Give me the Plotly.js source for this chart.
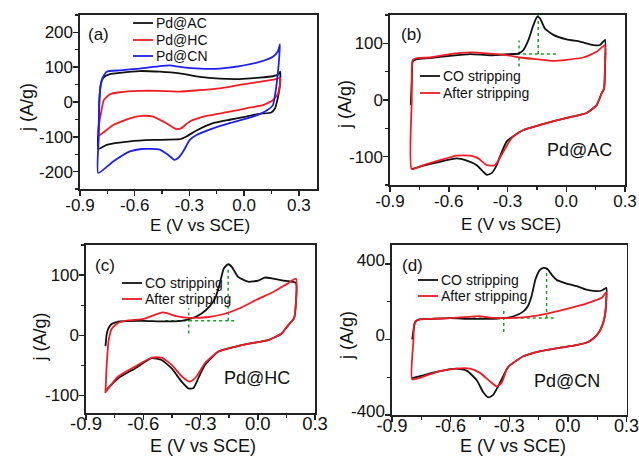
<!DOCTYPE html>
<html><head><meta charset="utf-8">
<script src="https://cdn.plot.ly/plotly-3.0.1.min.js"></script>
<style>body{margin:0;background:#fff}#chart{width:639px;height:459px}</style>
</head><body><div id="chart"></div>
<script>
// ---------- data: panel (a) ----------
const aAC_E = [-0.8,-0.797,-0.792,-0.785,-0.772,-0.736,-0.681,-0.572,-0.462,-0.353,-0.243,-0.134,-0.024,0.085,0.158,0.185,0.198, 0.197,0.19,0.18,0.17,0.149,0.085,0.012,-0.079,-0.17,-0.261,-0.316,-0.353,-0.499,-0.626,-0.754,-0.8];
const aAC_J = [-135,-60,20,53,70,80,84,89,87,82,72,67,66,70,74,78,87, 50,25,0,-18,-30,-34,-42,-51,-61,-82,-99,-107,-109,-113,-123,-135];
const aHC_E = [-0.8,-0.794,-0.785,-0.769,-0.736,-0.681,-0.572,-0.462,-0.353,-0.243,-0.134,-0.024,0.085,0.16,0.197, 0.197,0.19,0.186,0.158,0.103,0.012,-0.079,-0.207,-0.298,-0.344,-0.371,-0.426,-0.499,-0.562,-0.626,-0.718,-0.8];
const aHC_J = [-97,-60,-32,6,22,28,32,32,30,34,39,49,58,64,69, 50,32,24,5,-9,-18,-28,-40,-56,-75,-78,-61,-42,-40,-47,-66,-97];
const aCN_E = [-0.8,-0.797,-0.794,-0.781,-0.754,-0.681,-0.572,-0.462,-0.407,-0.353,-0.243,-0.134,-0.024,0.085,0.158,0.185,0.197, 0.19,0.178,0.168,0.158,0.122,0.049,-0.079,-0.17,-0.261,-0.298,-0.334,-0.362,-0.384,-0.407,-0.462,-0.562,-0.626,-0.718,-0.8];
const aCN_J = [-204,-100,6,63,87,91,96,103,105,101,96,96,103,115,130,145,166, 110,50,15,-9,-25,-42,-61,-76,-95,-109,-142,-161,-166,-156,-137,-135,-142,-171,-204];

// ---------- data: panel (b) Pd@AC ----------
const bCO_E = [-0.794,-0.788,-0.784,-0.763,-0.695,-0.593,-0.491,-0.389,-0.287,-0.245,-0.219,-0.193,-0.168,-0.148,-0.134,-0.109,-0.066,0.002,0.07,0.138,0.172,0.198, 0.198,0.193,0.181,0.155,0.104,0.036,-0.049,-0.134,-0.219,-0.27,-0.304,-0.338,-0.355,-0.381,-0.406,-0.457,-0.508,-0.56,-0.645,-0.73,-0.789];
const bCO_J = [-9,40,68,72,74,78,81,79,81,82,88,106,132,147,144,126,115,107,103,97,97,106, 60,20,12,-9,-23,-29,-36,-44,-53,-64,-73,-99,-115,-129,-132,-115,-107,-103,-109,-116,-122];
const bAF_E = [-0.789,-0.789,-0.788,-0.783,-0.763,-0.695,-0.593,-0.491,-0.389,-0.304,-0.236,-0.151,-0.066,0.002,0.087,0.155,0.198, 0.198,0.193,0.181,0.155,0.104,0.036,-0.049,-0.134,-0.219,-0.27,-0.287,-0.321,-0.364,-0.406,-0.449,-0.491,-0.56,-0.645,-0.73,-0.789];
const bAF_J = [-122,0,60,71,74,75,81,84,82,79,75,72,69,71,75,85,97, 60,20,12,-9,-23,-29,-36,-44,-53,-64,-71,-91,-115,-115,-103,-98,-98,-106,-115,-122];
const bGuide_E = [-0.241,-0.241,null,-0.252,-0.052,null,-0.143,-0.143];
const bGuide_J = [59,105,null,81,81,null,81,150];

// ---------- data: panel (c) Pd@HC ----------
const cCO_E = [-0.798,-0.791,-0.783,-0.769,-0.748,-0.725,-0.602,-0.497,-0.4,-0.348,-0.296,-0.252,-0.22,-0.199,-0.178,-0.155,-0.134,-0.103,-0.05,0.002,0.037,0.081,0.134,0.2, 0.199,0.19,0.16,0.125,0.056,-0.032,-0.119,-0.206,-0.276,-0.311,-0.338,-0.364,-0.399,-0.451,-0.504,-0.556,-0.643,-0.73,-0.797];
const cCO_J = [-18,3,11,18,21,23,24,23,24,28,36,48,64,86,111,118,113,97,89,91,96,94,91,87, 50,28,17,3,-8,-13,-19,-27,-49,-71,-88,-88,-77,-55,-41,-38,-55,-71,-92];
const cAF_E = [-0.798,-0.791,-0.781,-0.765,-0.73,-0.678,-0.602,-0.497,-0.427,-0.357,-0.269,-0.182,-0.094,-0.007,0.081,0.151,0.2, 0.199,0.19,0.16,0.125,0.056,-0.032,-0.119,-0.206,-0.276,-0.32,-0.355,-0.399,-0.451,-0.504,-0.556,-0.643,-0.73,-0.797];
const cAF_J = [-96,-46,-8,11,21,25,27,38,32,29,30,35,45,59,72,85,94, 50,28,17,3,-8,-13,-19,-27,-46,-68,-77,-68,-49,-37,-37,-52,-68,-94];
const cGuide_E = [-0.362,-0.362,null,-0.485,-0.112,null,-0.155,-0.155];
const cGuide_J = [3,45,null,24,24,null,24,114];

// ---------- data: panel (d) Pd@CN ----------
const dCO_E = [-0.797,-0.788,-0.783,-0.762,-0.7,-0.603,-0.503,-0.405,-0.355,-0.305,-0.255,-0.226,-0.205,-0.186,-0.166,-0.145,-0.126,-0.106,-0.077,-0.056,-0.006,0.046,0.094,0.144,0.174,0.197, 0.196,0.19,0.178,0.16,0.13,0.1,0.03,-0.06,-0.14,-0.23,-0.3,-0.314,-0.348,-0.382,-0.407,-0.433,-0.467,-0.518,-0.569,-0.655,-0.74,-0.797];
const dCO_J = [0,60,88,106,109,113,109,109,111,115,132,150,176,229,317,366,379,374,335,314,296,282,264,256,259,273, 200,130,80,40,5,-15,-33,-47,-62,-90,-140,-160,-230,-293,-307,-280,-215,-165,-155,-168,-190,-205];
const dAF_E = [-0.797,-0.79,-0.788,-0.78,-0.754,-0.7,-0.603,-0.503,-0.453,-0.405,-0.355,-0.305,-0.205,-0.106,-0.006,0.094,0.144,0.175,0.197, 0.196,0.19,0.178,0.16,0.13,0.1,0.03,-0.06,-0.14,-0.23,-0.3,-0.314,-0.339,-0.365,-0.399,-0.45,-0.501,-0.569,-0.655,-0.74,-0.797];
const dAF_J = [-211,0,70,97,106,109,113,120,123,116,113,113,120,137,162,190,208,222,250, 200,130,80,40,5,-15,-33,-47,-62,-90,-140,-160,-230,-248,-222,-177,-154,-154,-168,-197,-211];
const dGuide_E = [-0.328,-0.328,null,-0.487,-0.066,null,-0.109,-0.109];
const dGuide_J = [39,167,null,113,113,null,113,379];

// ---------- labels / ticks ----------
const seriesA = ['Pd@AC','Pd@HC','Pd@CN'];
const seriesCO = ['CO stripping','After stripping'];
const panelTags = ['(a)','(b)','(c)','(d)'];
const sampleNames = ['Pd@AC','Pd@HC','Pd@CN'];
const xTickVals = [-0.9,-0.6,-0.3,0.0,0.3];
const xTickText = ['-0.9','-0.6','-0.3','0.0','0.3'];
const yTickValsA = [-200,-100,0,100,200];
const yTickTextA = ['-200','-100','0','100','200'];
const yTickValsBC = [-100,0,100];
const yTickTextBC = ['-100','0','100'];
const yTickValsD = [-400,0,400];
const yTickTextD = ['-400','0','400'];
const xTitle = 'E (V vs SCE)';
const yTitle = 'j (A/g)';

// ---------- styling ----------
const F = 'Arial, "Liberation Sans", Helvetica, sans-serif';
const BLACK = '#111111', RED = '#ee1c25', BLUE = '#1f1ff2', GREEN = '#1f9a2a';
const W = 639, H = 459;
const px = v => v / W, py = v => 1 - v / H;

function curve(x, y, color, xa, ya) {
  return {x: x, y: y, xaxis: xa, yaxis: ya, mode: 'lines', showlegend: false, hoverinfo: 'skip',
          line: {color: color, width: 1.8, shape: 'spline', smoothing: 0.5}};
}
function guide(x, y, xa, ya) {
  return {x: x, y: y, xaxis: xa, yaxis: ya, mode: 'lines', showlegend: false, hoverinfo: 'skip',
          connectgaps: false, line: {color: GREEN, width: 1.5, dash: 'dot'}};
}

const traces = [
  curve(aAC_E, aAC_J, BLACK, 'x', 'y'),
  curve(aHC_E, aHC_J, RED, 'x', 'y'),
  curve(aCN_E, aCN_J, BLUE, 'x', 'y'),
  guide(bGuide_E, bGuide_J, 'x2', 'y2'),
  curve(bCO_E, bCO_J, BLACK, 'x2', 'y2'),
  curve(bAF_E, bAF_J, RED, 'x2', 'y2'),
  guide(cGuide_E, cGuide_J, 'x3', 'y3'),
  curve(cCO_E, cCO_J, BLACK, 'x3', 'y3'),
  curve(cAF_E, cAF_J, RED, 'x3', 'y3'),
  guide(dGuide_E, dGuide_J, 'x4', 'y4'),
  curve(dCO_E, dCO_J, BLACK, 'x4', 'y4'),
  curve(dAF_E, dAF_J, RED, 'x4', 'y4')
];

function xax(dom, range, anchor, tsize, shift) {
  return {domain: dom, range: range, anchor: anchor, automargin: false,
    tickmode: 'array', tickvals: xTickVals, ticktext: xTickText,
    minor: {tickmode: 'linear', tick0: -0.9, dtick: 0.15, ticks: 'outside', ticklen: 3, tickwidth: 1.3, tickcolor: '#222'},
    showline: true, mirror: true, linecolor: '#222', linewidth: 1.6,
    ticks: 'outside', ticklen: 5, tickwidth: 1.5, tickcolor: '#222',
    ticklabelstandoff: shift, ticklabeloverflow: 'allow',
    showgrid: false, zeroline: false, fixedrange: true,
    tickfont: {family: F, size: tsize, color: '#111'}};
}
function yax(dom, range, anchor, vals, text, minorStep, lift) {
  return {domain: dom, range: range, anchor: anchor, automargin: false,
    tickmode: 'array', tickvals: vals, ticktext: text,
    minor: {tickmode: 'linear', tick0: 0, dtick: minorStep, ticks: 'outside', ticklen: 3, tickwidth: 1.3, tickcolor: '#222'},
    showline: true, mirror: true, linecolor: '#222', linewidth: 1.6,
    ticks: 'outside', ticklen: 5, tickwidth: 1.5, tickcolor: '#222',
    ticklabelstandoff: -3, ticklabelshift: lift || 0, ticklabeloverflow: 'allow',
    showgrid: false, zeroline: false, fixedrange: true,
    tickfont: {family: F, size: 17, color: '#111'}};
}

// legends drawn as line + text; axis titles and tags as text
const shapes = [], annotations = [];
function legendItem(x0, y, color, label) {
  shapes.push({type: 'line', xref: 'paper', yref: 'paper', x0: px(x0), x1: px(x0 + 20), y0: py(y), y1: py(y),
               line: {color: color, width: 1.8}});
  annotations.push({xref: 'paper', yref: 'paper', x: px(x0 + 21), y: py(y), xanchor: 'left', yanchor: 'middle',
               text: label, showarrow: false, font: {family: F, size: 14, color: '#111'}});
}
legendItem(133, 23, BLACK, seriesA[0]);
legendItem(133, 40, RED, seriesA[1]);
legendItem(133, 56, BLUE, seriesA[2]);
legendItem(420, 76, BLACK, seriesCO[0]);
legendItem(420, 93, RED, seriesCO[1]);
legendItem(122, 283, BLACK, seriesCO[0]);
legendItem(122, 299, RED, seriesCO[1]);
legendItem(418, 280, BLACK, seriesCO[0]);
legendItem(418, 296, RED, seriesCO[1]);

function tag(x, y, t, size, anchor, angle) {
  annotations.push({xref: 'paper', yref: 'paper', x: px(x), y: py(y), xanchor: anchor || 'left', yanchor: 'middle',
    text: t, showarrow: false, textangle: angle || 0, font: {family: F, size: size, color: '#111'}});
}
tag(86, 34, panelTags[0], 17);
tag(399, 34, panelTags[1], 17);
tag(93, 265, panelTags[2], 17);
tag(400, 265, panelTags[3], 17);
tag(579, 150, sampleNames[0], 18, 'center');
tag(257, 378, sampleNames[1], 18, 'center');
tag(567, 381, sampleNames[2], 18, 'center');
// x-axis titles
tag(200, 226, xTitle, 17, 'center');
tag(511, 224, xTitle, 17, 'center');
tag(203, 446, xTitle, 18, 'center');
tag(513, 446, xTitle, 18, 'center');
// y-axis titles
tag(27, 108, yTitle, 18, 'center', -90);
tag(345, 105, yTitle, 18, 'center', -90);
tag(39.5, 337, yTitle, 18, 'center', -90);
tag(347, 335, yTitle, 18, 'center', -90);

const layout = {
  width: W, height: H, margin: {l: 0, r: 0, t: 0, b: 0},
  paper_bgcolor: '#fff', plot_bgcolor: '#fff', showlegend: false,
  font: {family: F, color: '#111'},
  xaxis:  xax([px(80), px(317)], [-0.9, 0.4], 'y', 17, -5),
  yaxis:  yax([py(189), py(15)], [-250, 250], 'x', yTickValsA, yTickTextA, 50),
  xaxis2: xax([px(390), px(625)], [-0.9, 0.3], 'y2', 17, -5),
  yaxis2: yax([py(185), py(15)], [-150, 150], 'x2', yTickValsBC, yTickTextBC, 50),
  xaxis3: xax([px(86), px(315)], [-0.9, 0.3], 'y3', 18.5, -12),
  yaxis3: yax([py(413), py(245)], [-129, 150], 'x3', yTickValsBC, yTickTextBC, 50),
  xaxis4: xax([px(392), px(626.5)], [-0.9, 0.3], 'y4', 18, -11),
  yaxis4: yax([py(415), py(245)], [-400, 500], 'x4', yTickValsD, yTickTextD, 200, -4),
  shapes: shapes, annotations: annotations
};

Plotly.newPlot('chart', traces, layout, {staticPlot: true, displayModeBar: false});
</script></body></html>
